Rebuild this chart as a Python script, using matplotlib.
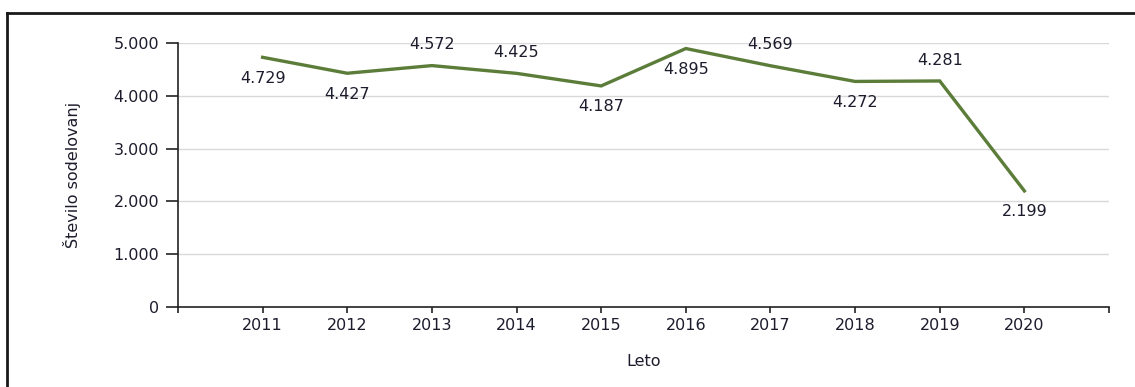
import matplotlib.pyplot as plt
from matplotlib.lines import Line2D
from matplotlib.ticker import FuncFormatter

years = [2011, 2012, 2013, 2014, 2015, 2016, 2017, 2018, 2019, 2020]
participations = [4729, 4427, 4572, 4425, 4187, 4895, 4569, 4272, 4281, 2199]
# where each value label sits: 1 above the point, -1 below
label_side = [-1, -1, 1, 1, -1, -1, 1, -1, 1, -1]


def thousands(v, pos=None):
    return f"{int(v):,}".replace(",", ".")


plt.rcParams['font.family'] = ['DejaVu Sans']
text_col = '#1c1c2c'
fs = 11.5

fig = plt.figure(figsize=(11.35, 3.87), dpi=100)
ax = fig.add_axes([0.1568, 0.2067, 0.8203, 0.6822])

ax.plot(years, participations, color='#5b7d39', linewidth=2.4, solid_joinstyle='miter', zorder=3)

for x, y, side in zip(years, participations, label_side):
    ax.annotate(thousands(y), (x, y), xytext=(0, 15 * side), textcoords='offset points',
                ha='center', va='center', fontsize=fs, color=text_col)

ax.set_xlim(2010, 2021)
ax.set_ylim(0, 5000)
ax.set_xticks(years)
ax.set_xticklabels([str(y) for y in years])
# little end ticks at both ends of the category axis
ax.set_xticks([2010, 2021], minor=True)
ax.set_yticks([0, 1000, 2000, 3000, 4000, 5000])
ax.yaxis.set_major_formatter(FuncFormatter(thousands))
ax.grid(axis='y', color='#d9d9d9', linewidth=1)
ax.set_axisbelow(True)

for s in ['top', 'right']:
    ax.spines[s].set_visible(False)
for s in ['left', 'bottom']:
    ax.spines[s].set_color('#222222')
    ax.spines[s].set_linewidth(1.2)

ax.tick_params(axis='x', which='both', length=4, width=1.2, color='#222222', labelsize=fs,
               labelcolor=text_col, pad=4)
ax.tick_params(axis='y', length=8.5, width=1.2, color='#222222', labelsize=fs, labelcolor=text_col, pad=5)

ax.set_xlabel('Leto', fontsize=fs, color=text_col, va='center')
ax.set_ylabel('Število sodelovanj', fontsize=fs, color=text_col, va='center')
ax.xaxis.set_label_coords(0.5, -0.208)
ax.yaxis.set_label_coords(-0.114, 0.5)

# frame around the chart, running off the right and bottom edges
bx, by = 7 / 1135, 1 - 13 / 387
fig.add_artist(Line2D([bx, bx], [0, by], color='#1a1a1a', linewidth=2, transform=fig.transFigure))
fig.add_artist(Line2D([bx, 1], [by, by], color='#1a1a1a', linewidth=2, transform=fig.transFigure))

fig.savefig('out.png', dpi=100)
